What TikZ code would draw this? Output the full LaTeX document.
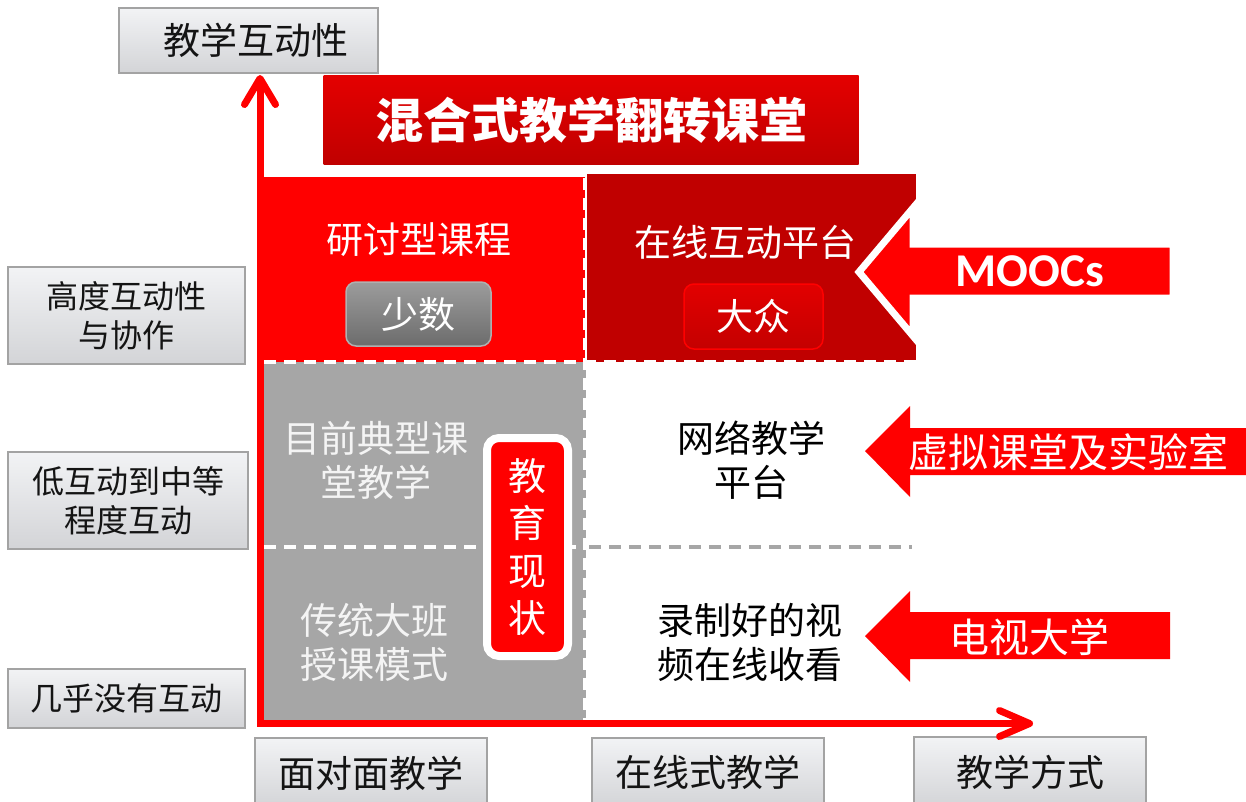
\documentclass[tikz,border=0pt]{standalone}
\usepackage{fontspec}
\newfontfamily\cjk{Noto Sans CJK SC}
\newfontfamily\lat{Carlito}
\usetikzlibrary{arrows.meta}
\definecolor{brightred}{HTML}{FF0000}
\definecolor{darkred}{HTML}{C00000}
\definecolor{midgray}{HTML}{A6A6A6}
\definecolor{boxtop}{HTML}{F2F3F5}
\definecolor{boxbot}{HTML}{D3D4D7}
\definecolor{boxline}{HTML}{A3A3A3}
\definecolor{lighttext}{HTML}{F4F4F4}
\begin{document}
\begin{tikzpicture}[x=1pt,y=-1pt,
  axisbox/.style={draw=boxline, line width=2pt, top color=boxtop, bottom color=boxbot,
    inner sep=0pt, align=center, text=black!92, font=\cjk\fontsize{37}{44}\selectfont},
  levelbox/.style={axisbox, font=\cjk\fontsize{32}{39}\selectfont},
  quadtext/.style={inner sep=0pt, align=center, font=\cjk\fontsize{37}{44}\selectfont},
  tagbox/.style={rounded corners=10pt, line width=1.5pt, inner sep=0pt, text=white,
    font=\cjk\fontsize{37}{44}\selectfont},
  bigarrow/.style={fill=brightred},
  arrowtext/.style={inner sep=0pt, text=white, font=\cjk\fontsize{40}{44}\selectfont},
  divider/.style={line width=3.5pt, dash pattern=on 12pt off 8pt},
  axis/.style={draw=brightred, line width=7pt, line join=miter}
]
\useasboundingbox (0,0) rectangle (1246,801);

% quadrants
\fill[brightred] (262,177) rectangle (585,362);
\fill[darkred] (587,174) rectangle (916,362);
\fill[midgray] (263,362) rectangle (586,720);

% dividers
\draw[divider, draw=white] (264,362) -- (916,362);
\draw[divider, draw=white] (264,547) -- (585,547);
\draw[divider, draw=midgray] (589,547) -- (912,547);
\draw[divider, draw=white] (585,178) -- (585,720);

% title
\node[draw=none, top color={rgb,255:red,228;green,0;blue,0}, bottom color=darkred,
  minimum width=535pt, minimum height=89pt, inner sep=0pt, text=white,
  font=\cjk\bfseries\fontsize{48}{52}\selectfont] (title) at (591,120) {混合式教学翻转课堂};

% axis labels
\node[axisbox, minimum width=259pt, minimum height=65pt] (yname) at (248.5,40.5) {\hspace{14pt}教学互动性};
\node[levelbox, minimum width=237pt, minimum height=97pt] (high) at (126.5,315.5) {高度互动性\\与协作};
\node[levelbox, minimum width=240pt, minimum height=97pt] (mid) at (128,500.5) {低互动到中等\\程度互动};
\node[levelbox, minimum width=237pt, minimum height=59pt] (low) at (126.5,698.5) {几乎没有互动};
\node[axisbox, minimum width=232pt, minimum height=70pt] (face) at (371,773) {面对面教学};
\node[axisbox, minimum width=232pt, minimum height=70pt] (online) at (708,772.5) {在线式教学};
\node[axisbox, minimum width=232pt, minimum height=70pt] (xname) at (1030,772) {教学方式};

% quadrant contents
\node[quadtext, text=white] (seminar) at (419,240) {研讨型课程};
\node[tagbox, draw={rgb,255:red,176;green,176;blue,176}, top color={rgb,255:red,156;green,156;blue,156},
  bottom color={rgb,255:red,108;green,108;blue,108}, minimum width=145pt, minimum height=64pt] (few) at (418.5,314) {少数};
\node[quadtext, text=white] (platform) at (745,242) {在线互动平台};
\node[tagbox, draw=brightred, top color={rgb,255:red,226;green,0;blue,0},
  bottom color={rgb,255:red,196;green,0;blue,0}, minimum width=139pt, minimum height=65pt] (many) at (753.5,316.5) {大众};
\node[quadtext, text=lighttext] (typical) at (376,460) {目前典型课\\堂教学};
\node[quadtext, text=lighttext] (lecture) at (374,642) {传统大班\\授课模式};
\node[quadtext, text=black] (network) at (751,460) {网络教学\\平台};
\node[quadtext, text=black] (video) at (750,642) {录制好的视\\频在线收看};

% status box
\node[draw=white, fill=brightred, line width=8pt, rounded corners=12pt, inner sep=0pt,
  minimum width=81pt, minimum height=218pt, text=white, align=center,
  font=\cjk\fontsize{38}{47.5}\selectfont] (status) at (527.5,547) {教\\育\\现\\状};

% axes
\coordinate (origin) at (260,723.5);
\coordinate (ytip) at (260,75);
\coordinate (xtip) at (1033,723.5);
\draw[axis, {Straight Barb[length=26pt,width=31pt,line width=7pt,round]}-{Straight Barb[length=30pt,width=26pt,line width=7pt,round]}]
  (ytip) -- (origin) -- (xtip);

% MOOCs arrow
\coordinate (m1) at (1173,244);
\coordinate (m2) at (913,244);
\coordinate (m3) at (913,208);
\coordinate (m4) at (859,272);
\coordinate (m5) at (913,336);
\coordinate (m6) at (913,298);
\coordinate (m7) at (1173,298);
\filldraw[bigarrow, draw=white, line width=7pt, line join=miter] (m1) -- (m2) -- (m3) -- (m4) -- (m5) -- (m6) -- (m7) -- cycle;
\node[inner sep=0pt, text=white, font=\lat\bfseries\fontsize{47}{50}\selectfont] (moocs) at (1030,271) {MOOCs};

% virtual lab arrow
\coordinate (v1) at (1246,428);
\coordinate (v2) at (910,428);
\coordinate (v3) at (910,406);
\coordinate (v4) at (865,451);
\coordinate (v5) at (910,497);
\coordinate (v6) at (910,475);
\coordinate (v7) at (1246,475);
\fill[bigarrow] (v1) -- (v2) -- (v3) -- (v4) -- (v5) -- (v6) -- (v7) -- cycle;
\node[arrowtext] (virtual) at (1068,452) {虚拟课堂及实验室};

% TV university arrow
\coordinate (t1) at (1170,612);
\coordinate (t2) at (910,612);
\coordinate (t3) at (910,591);
\coordinate (t4) at (865,636);
\coordinate (t5) at (910,682);
\coordinate (t6) at (910,659);
\coordinate (t7) at (1170,659);
\fill[bigarrow] (t1) -- (t2) -- (t3) -- (t4) -- (t5) -- (t6) -- (t7) -- cycle;
\node[arrowtext] (tv) at (1029,637) {电视大学};
\end{tikzpicture}
\end{document}
